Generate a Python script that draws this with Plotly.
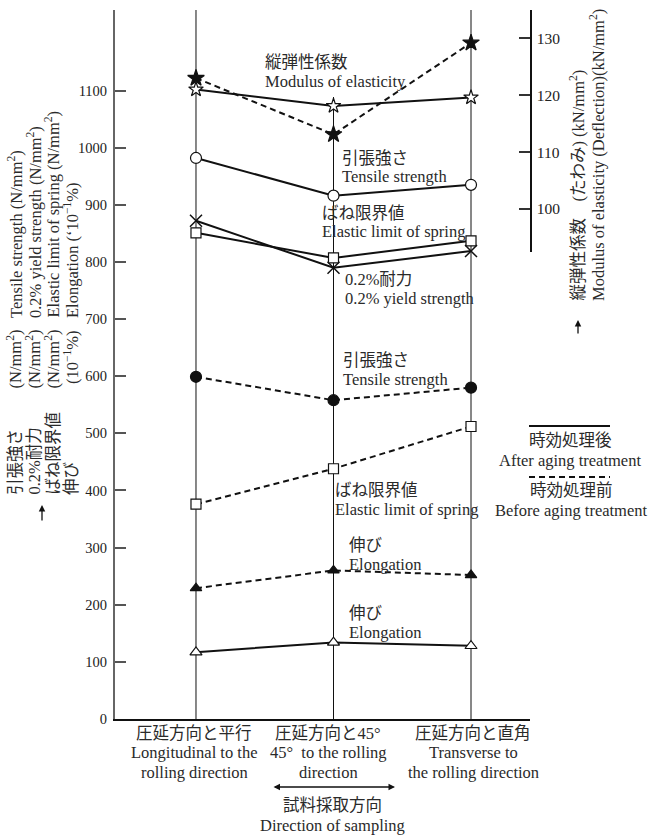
import plotly.graph_objects as go

# Sampling direction (categorical positions 0, 1, 2)
directions = [0, 1, 2]
direction_labels = [
    ["圧延方向と平行", "Longitudinal to the", "rolling direction"],
    ["圧延方向と45°", "45°  to the rolling", "direction"],
    ["圧延方向と直角", "Transverse to", "the rolling direction"],
]

# After aging treatment (solid lines)
after_tensile = [982, 916, 935]
after_elastic_limit = [851, 807, 837]
after_yield = [872, 790, 819]
after_elongation = [117, 134, 128]
after_modulus = [121.0, 118.1, 119.6]      # kN/mm2, right axis

# Before aging treatment (dashed lines)
before_tensile = [599, 558, 580]
before_elastic_limit = [376, 438, 512]
before_elongation = [229, 260, 252]
before_modulus = [123.0, 113.1, 129.2]     # kN/mm2, right axis

left_ticks = list(range(0, 1101, 100))
right_ticks = [100, 110, 120, 130]

W, H = 650, 837
L, R, T, B = 115, 120, 10, 118
PW, PH = W - L - R, H - T - B

FONT = "'Liberation Serif', 'Times New Roman', 'Noto Sans CJK JP', serif"
TXT = "#2a2a2a"
FS = 16.5


def px(x):
    return (x - L) / PW


def py(y):
    return (H - B - y) / PH


fig = go.Figure()

DASH = "6px,4px"


def series(y, symbol, dash, fill="white", size=11, axis="y", lw=1.2):
    fig.add_trace(go.Scatter(
        x=directions, y=y, yaxis=axis, mode="lines+markers",
        line=dict(color="#111", width=2, dash=dash),
        marker=dict(symbol=symbol, size=size, color=fill,
                    line=dict(color="#111", width=lw)),
        showlegend=False, hoverinfo="y"))


series(before_tensile, "circle", DASH, fill="#111", size=11)
series(before_elastic_limit, "square", DASH, size=10)
series(before_elongation, "triangle-up", DASH, fill="#111", size=10)
series(before_modulus, "star", DASH, fill="#111", size=12.5, axis="y2")

series(after_tensile, "circle", "solid", size=11)
series(after_yield, "x-thin-open", "solid", fill="#111", size=12, lw=1.5)
series(after_elastic_limit, "square", "solid", size=10)
series(after_elongation, "triangle-up", "solid", size=10.5)
series(after_modulus, "star", "solid", size=11, axis="y2")

# vertical guide lines at each sampling direction
shapes = []
for d, top in zip(directions, [1.0, py(97), 1.0]):
    shapes.append(dict(type="line", xref="x", yref="paper", x0=d, x1=d,
                       y0=0, y1=top, line=dict(color="#111", width=1),
                       layer="below"))

# legend key lines
shapes.append(dict(type="line", xref="paper", yref="paper",
                   x0=px(529), x1=px(610), y0=py(426), y1=py(426),
                   line=dict(color="#111", width=2)))
shapes.append(dict(type="line", xref="paper", yref="paper",
                   x0=px(529), x1=px(610), y0=py(477), y1=py(477),
                   line=dict(color="#111", width=2, dash=DASH)))

ann = []


def text(s, x, y, xanchor="left", size=FS, angle=0, yanchor="middle", color=TXT):
    ann.append(dict(text=s, x=px(x), y=py(y), xref="paper", yref="paper",
                    xanchor=xanchor, yanchor=yanchor, showarrow=False,
                    textangle=angle,
                    font=dict(family=FONT, size=size, color=color)))


# series labels inside the plot
series_labels = [
    ("縦弾性係数", "Modulus of elasticity", 263, 63),
    ("引張強さ", "Tensile strength", 340, 158),
    ("ばね限界値", "Elastic limit of spring", 320, 213),
    ("0.2%耐力", "0.2% yield strength", 343, 279),
    ("引張強さ", "Tensile strength", 341, 360),
    ("ばね限界値", "Elastic limit of spring", 333, 490),
    ("伸び", "Elongation", 347, 545),
    ("伸び", "Elongation", 347, 613),
]
for jp, en, x, y in series_labels:
    text(jp, x, y)
    text(en, x, y + 19)

# legend texts
text("時効処理後", 570, 441, xanchor="center")
text("After aging treatment", 570, 460, xanchor="center")
text("時効処理前", 571, 490, xanchor="center")
text("Before aging treatment", 571, 510, xanchor="center")

# category labels under the axis
cat_centers = [194, 328, 473]
for cx, lines in zip(cat_centers, direction_labels):
    for i, s in enumerate(lines):
        text(s, cx, 733 + 19.5 * i, xanchor="center")

text("試料採取方向", 332, 805, xanchor="center")
text("Direction of sampling", 332, 825, xanchor="center")

# left axis title, four rotated columns
left_cols = [
    (15, "引張強さ", "(N/mm<sup>2</sup>)", "Tensile strength (N/mm<sup>2</sup>)"),
    (34, "0.2%耐力", "(N/mm<sup>2</sup>)", "0.2% yield strength (N/mm<sup>2</sup>)"),
    (53, "ばね限界値", "(N/mm<sup>2</sup>)", "Elastic limit of spring (N/mm<sup>2</sup>)"),
    (71, "伸び", "(10<sup>−1</sup>%)", "Elongation (‘10<sup>−1</sup>%)"),
]
for x, jp, unit, en in left_cols:
    text(jp, x, 497, xanchor="center", angle=-90, yanchor="bottom")
    text(unit, x, 328, xanchor="center", angle=-90, yanchor="top")
    text(en, x, 320, xanchor="center", angle=-90, yanchor="bottom")

# right axis title
text("縦弾性係数　(たわみ) (kN/mm<sup>2</sup>)", 578, 303, xanchor="center",
     angle=-90, yanchor="bottom")
text("Modulus of elasticity (Deflection)(kN/mm<sup>2</sup>)", 597, 303,
     xanchor="center", angle=-90, yanchor="bottom")


# small arrows (head at (x, y_head), tail given in pixels)
def arrow(x, y_head, y_tail, x_tail=None, both=False):
    x_tail = x if x_tail is None else x_tail
    ann.append(dict(x=px(x), y=py(y_head), xref="paper", yref="paper",
                    ax=x_tail - x, ay=y_tail - y_head,
                    text="", showarrow=True, arrowhead=2, arrowsize=1,
                    arrowwidth=1.3, arrowcolor="#111",
                    arrowside="end+start" if both else "end",
                    standoff=0, startstandoff=0))


arrow(42, 505, 522)
arrow(578, 320, 335)
arrow(395, 787, 787, x_tail=272, both=True)

fig.update_layout(
    width=W, height=H,
    margin=dict(l=L, r=R, t=T, b=B, pad=0),
    paper_bgcolor="white", plot_bgcolor="rgba(0,0,0,0)",
    showlegend=False,
    font=dict(family=FONT, color=TXT),
    xaxis=dict(range=[-0.589, 2.429], showgrid=False, zeroline=False,
               showline=True, linecolor="#111", linewidth=1.5,
               ticks="", showticklabels=False, fixedrange=True),
    yaxis=dict(range=[0, 1241], showgrid=False, zeroline=False,
               showline=True, linecolor="#666", linewidth=2,
               ticks="inside", ticklen=11, tickwidth=1.5, tickcolor="#555",
               tickvals=left_ticks, ticklabelstandoff=3,
               tickfont=dict(family=FONT, size=14.5, color="#222")),
    yaxis2=dict(domain=[py(252), 1.0], range=[92.44, 134.97], anchor="x",
                side="right", showgrid=False, zeroline=False,
                showline=True, linecolor="#111", linewidth=1.5,
                ticks="inside", ticklen=11, tickwidth=1.5, tickcolor="#333",
                tickvals=right_ticks, ticklabelstandoff=2,
                tickfont=dict(family=FONT, size=15.5, color="#222")),
    shapes=shapes,
    annotations=ann,
)

fig.write_html("out.html")
